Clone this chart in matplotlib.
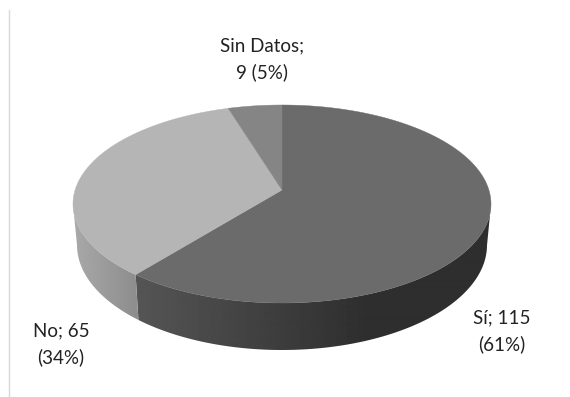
import numpy as np
import matplotlib
matplotlib.use('Agg')
import matplotlib.pyplot as plt
from matplotlib.patches import Polygon

labels = ['Sí; 115\n(61%)', 'No; 65\n(34%)', 'Sin Datos;\n9 (5%)']
values = [115, 65, 9]
top_colors = ['#6b6b6b', '#b5b5b5', '#858585']

plt.rcParams['font.family'] = ['Lato', 'DejaVu Sans']

W, H = 570, 397
fig = plt.figure(figsize=(W / 100, H / 100), dpi=100)
ax = fig.add_axes([0, 0, 1, 1])

# the tilted disc: circle seen in perspective, so the middle sits above the ellipse centre
cx = 282
skew = 0.141


def rim(t, cy, rx, ry):
    # t runs clockwise from 12 o'clock
    up = np.cos(t)
    side = np.sin(t)
    d = 1 + skew * up
    x = cx + rx * side * np.sqrt(1 - skew ** 2) / d
    y = cy - ry * (up + skew) / d
    return x, y


ax.plot([9, 9], [10, H], color='#d9d9d9', lw=1)

# outer wall first, gradient image clipped to each slice
# it stops where the rim is widest (cos t = -skew), that keeps the outline straight
fracs = np.cumsum([0] + values) / sum(values) * 2 * np.pi
wall = [(138, 85, 370, 46), (76, 168, 136, 142), (76, 140, 136, 140)]
px = np.arange(W) + 0.5
for i in range(len(values)):
    ts = np.linspace(fracs[i], fracs[i + 1], 600)
    ts = ts[np.cos(ts) <= -skew]
    if len(ts) == 0:
        continue
    xa, ya = rim(ts, 204, 209, 99)
    xb, yb = rim(ts, 245, 205, 105)
    pts = list(zip(xa, ya)) + list(zip(xb[::-1], yb[::-1]))
    clip = Polygon(pts, transform=ax.transData, facecolor='none', edgecolor='none')
    ax.add_patch(clip)
    x0, g0, x1, g1 = wall[i]
    grad = np.interp(px, [x0, x1], [g0, g1])[None, :]
    im = ax.imshow(grad, cmap='gray', vmin=0, vmax=255, extent=(0, W, H, 0),
                   aspect='auto', interpolation='bilinear')
    im.set_clip_path(clip)

# top face
mid = (cx, 190)
for i in range(len(values)):
    ts = np.linspace(fracs[i], fracs[i + 1], 200)
    xs, ys = rim(ts, 204, 209, 99)
    pts = [mid] + list(zip(xs, ys))
    ax.add_patch(Polygon(pts, facecolor=top_colors[i], edgecolor=top_colors[i], lw=0.3))

text_pos = [(502, 331), (61, 344), (262, 59)]
for lab, (x, y) in zip(labels, text_pos):
    ax.text(x, y, lab, ha='center', va='center', fontsize=13.5, color='#222222',
            linespacing=1.58)

ax.set_xlim(0, W)
ax.set_ylim(H, 0)
ax.axis('off')
fig.savefig('out.png', dpi=100)
